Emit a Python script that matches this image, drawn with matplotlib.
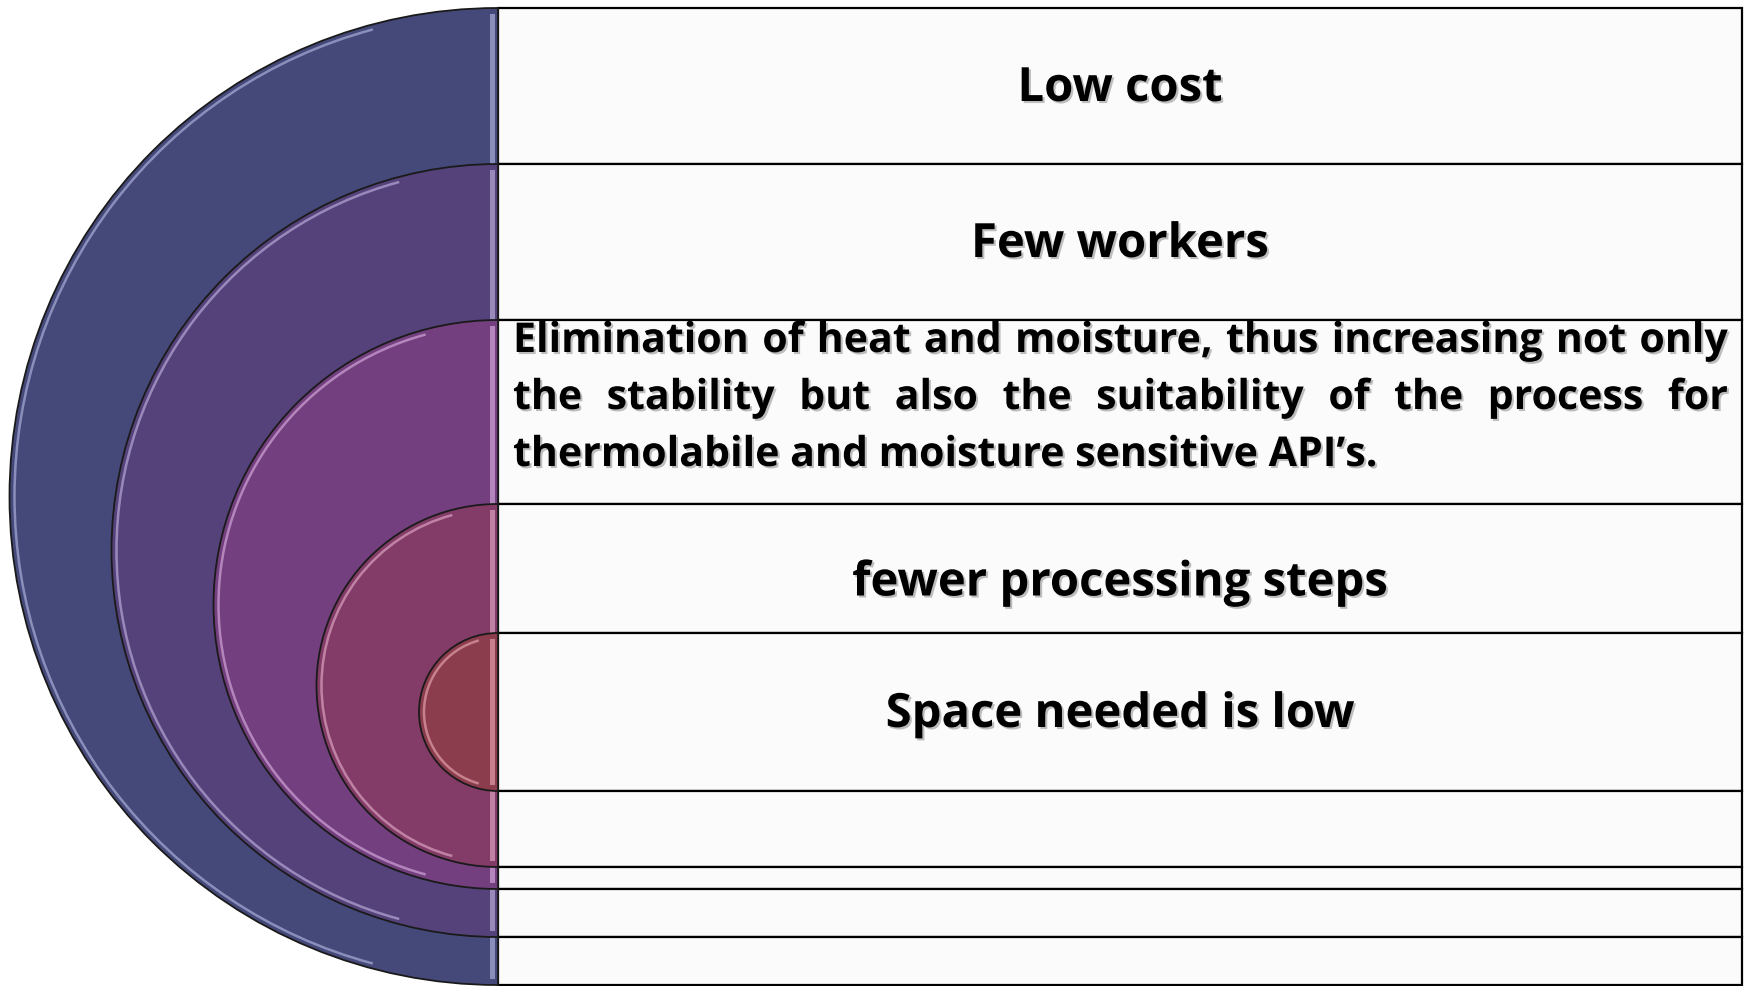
import matplotlib
matplotlib.use("Agg")
import matplotlib.pyplot as plt
from matplotlib.patches import Wedge, Rectangle, Arc
import matplotlib.patheffects as pe

# row edges of the text boxes (pixels from top), the semicircles share them
row_edges = [9, 165, 321, 505, 634, 792, 868, 890, 938, 986]
labels = ["Low cost", "Few workers", None, "fewer processing steps", "Space needed is low"]
para_lines = ["Elimination of heat and moisture, thus increasing not only",
              "the stability but also the suitability of the process for",
              "thermolabile and moisture sensitive API\u2019s."]

ring_colors = ["#45497A", "#55427A", "#733F7E", "#833C67", "#8C3D4D"]
glow_colors = ["#C4C8F0", "#D2C2F0", "#EAC0F0", "#F4BCD8", "#F6BAC2"]

W, H = 1748, 987
x0, x1 = 498, 1742   # box left / right
fontname = "Open Sans"

fig = plt.figure(figsize=(W / 100, H / 100), dpi=100)
ax = fig.add_axes([0, 0, 1, 1])
ax.set_xlim(0, W)
ax.set_ylim(H, 0)
ax.axis("off")

shadow = [pe.withSimplePatchShadow(offset=(1.5, -1.5), shadow_rgbFace="0.45", alpha=0.45)]

# boxes
n_rows = len(row_edges) - 1
for i in range(n_rows):
    top, bot = row_edges[i], row_edges[i + 1]
    ax.add_patch(Rectangle((x0, top), x1 - x0, bot - top, facecolor="#FBFBFB",
                           edgecolor="black", lw=1.6, zorder=1))

# nested semicircles
for i, col in enumerate(ring_colors):
    top, bot = row_edges[i], row_edges[n_rows - i]
    cy = (top + bot) / 2
    r = (bot - top) / 2
    ax.add_patch(Wedge((x0, cy), r, 90, 270, facecolor=col, edgecolor="#1a1a1a",
                       lw=1.3, zorder=2 + i * 3))
    # bevel highlight along the curved edge
    ax.add_patch(Arc((x0, cy), 2 * (r - 5), 2 * (r - 5), theta1=105, theta2=255,
                     color=glow_colors[i], lw=1.8, alpha=0.55, zorder=3 + i * 3))
    # light strip along the flat edge
    ax.add_patch(Rectangle((x0 - 8, top + 6), 5, bot - top - 12, facecolor=glow_colors[i],
                           edgecolor="none", alpha=0.55, zorder=3 + i * 3))

# centred labels
nudge = {3: 12}
for i, lab in enumerate(labels):
    if lab is None:
        continue
    cy = (row_edges[i] + row_edges[i + 1]) / 2
    ax.text((x0 + x1) / 2, cy + 15 + nudge.get(i, 0), lab, ha="center", va="baseline",
            fontsize=34, fontweight="bold", family=fontname, color="black",
            path_effects=shadow, zorder=30)

# justified paragraph
renderer = fig.canvas.get_renderer()
pl, pr = 513, 1728
baselines = [353, 410, 467]
fs_par = 29.6
for k, line in enumerate(para_lines):
    words = line.split(" ")
    yb = baselines[k]
    if k == len(para_lines) - 1:
        ax.text(pl, yb, line, ha="left", va="baseline", fontsize=fs_par, fontweight="bold",
                family=fontname, path_effects=shadow, zorder=30)
        continue
    arts = [ax.text(0, yb, w, ha="left", va="baseline", fontsize=fs_par, fontweight="bold",
                    family=fontname, path_effects=shadow, zorder=30) for w in words]
    widths = [a.get_window_extent(renderer).width for a in arts]
    gap = (pr - pl - sum(widths)) / (len(words) - 1)
    xpos = pl
    for a, wd in zip(arts, widths):
        a.set_x(xpos)
        xpos += wd + gap

fig.savefig("out.png", dpi=100, facecolor="white")
